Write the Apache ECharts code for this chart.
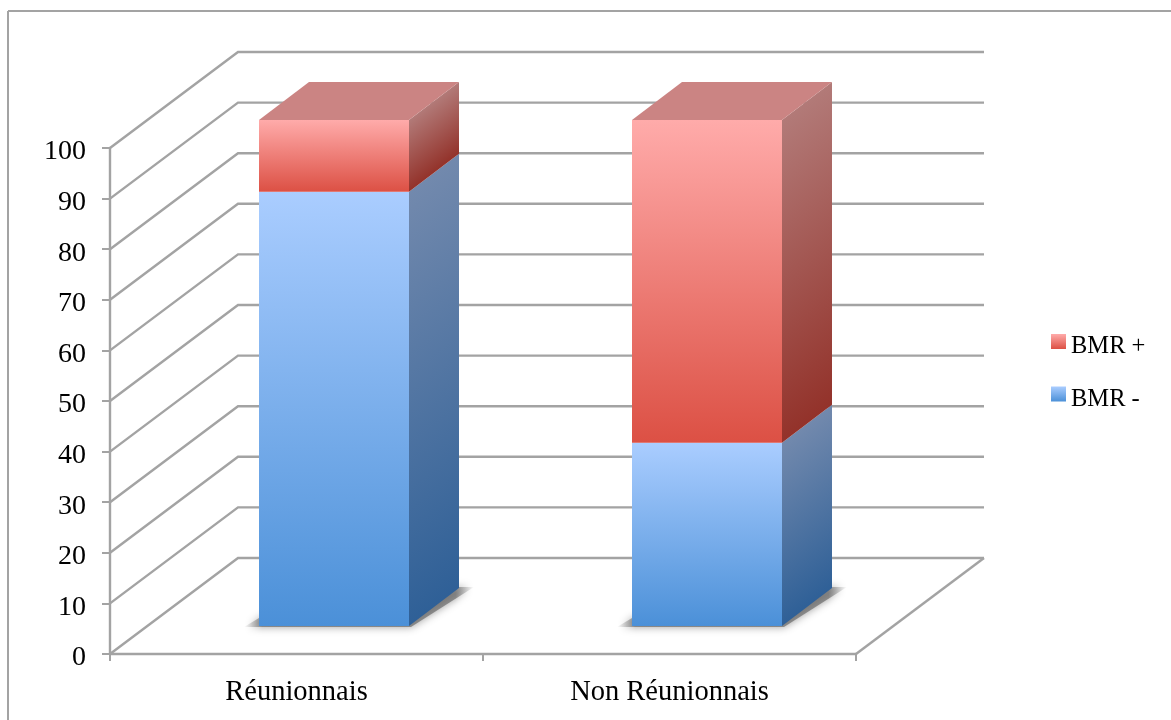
<!DOCTYPE html>
<html>
<head>
<meta charset="utf-8">
<style>html,body{margin:0;padding:0;background:#fff}#chart{width:1171px;height:720px}</style>
<script src="https://cdn.jsdelivr.net/npm/echarts@6/dist/echarts.min.js"></script>
</head>
<body>
<div id="chart"></div>
<script>
// Share of patients by group, stacked to 100
const categories = ['Réunionnais', 'Non Réunionnais'];
const bmrMinus = [85.8, 36.2];
const bmrPlus = [14.2, 63.8];
const yTicks = [0, 10, 20, 30, 40, 50, 60, 70, 80, 90, 100];

// Oblique projection used for the pseudo-3D look (screen pixels)
const WALL = [128, -96];
const BAR_FRONT = [37.5, -28];
const BAR_DEPTH = [50, -38];
const BAR_WIDTH = 150;
const LINE = '#a3a3a3';
const LINE_WIDTH = 2.4;
const TEXT_FONT = '"Liberation Serif", serif';

const grad = (x0, y0, x1, y1, from, to) =>
  new echarts.graphic.LinearGradient(x0, y0, x1, y1,
    [{ offset: 0, color: from }, { offset: 1, color: to }], true);

const BLUE = { front: ['#aacdff', '#4b90d8'], side: ['#7289ad', '#2f6097'] };
const RED = { front: ['#ffabaa', '#dc5044'], side: ['#b27a78', '#93322a'] };
const TOP_FACE = '#cb8483';

// Walls: one bent line per tick, running back along the side wall then across the rear wall
function renderWall(params, api) {
  const cs = params.coordSys;
  const p = api.coord([0, api.value(0)]);
  const x0 = cs.x;
  return {
    type: 'polyline',
    silent: true,
    shape: { points: [[x0, p[1]], [x0 + WALL[0], p[1] + WALL[1]], [x0 + cs.width + WALL[0], p[1] + WALL[1]]] },
    style: { fill: null, stroke: LINE, lineWidth: LINE_WIDTH }
  };
}

// Floor edge on the right-hand side
function renderFloorEdge(params, api) {
  const cs = params.coordSys;
  const base = api.coord([0, 0])[1];
  const x = cs.x + cs.width;
  return {
    type: 'line',
    silent: true,
    shape: { x1: x, y1: base, x2: x + WALL[0], y2: base + WALL[1] },
    style: { stroke: LINE, lineWidth: LINE_WIDTH }
  };
}

// Soft contact shadow beneath a column, fading out at both tails
function renderShadow(params, api) {
  const i = api.value(0);
  const cx = api.coord([i, 0]);
  const left = cx[0] + BAR_FRONT[0] - BAR_WIDTH / 2;
  const right = left + BAR_WIDTH;
  const base = cx[1] + BAR_FRONT[1];
  const x0 = left - 15;
  const x1 = right + BAR_DEPTH[0] + 15;
  const fill = new echarts.graphic.LinearGradient(x0, 0, x1, 0, [
    { offset: 0, color: 'rgba(100,100,100,0)' },
    { offset: 0.08, color: 'rgba(100,100,100,0.65)' },
    { offset: 0.92, color: 'rgba(100,100,100,0.65)' },
    { offset: 1, color: 'rgba(100,100,100,0)' }
  ], true);
  return {
    type: 'polygon',
    silent: true,
    shape: { points: [[x0, base + 1], [left, base - 8], [right + BAR_DEPTH[0], base + BAR_DEPTH[1] - 1],
      [x1, base + BAR_DEPTH[1] - 1], [right + 2, base + 1]] },
    style: { fill, shadowBlur: 8, shadowColor: 'rgba(90,90,90,0.9)' }
  };
}

// One stacked segment: front face, right face and, on the last segment, the cap
function segmentRenderer(palette, withCap) {
  return function (params, api) {
    const i = api.value(0);
    const low = api.coord([i, api.value(1)]);
    const high = api.coord([i, api.value(2)]);
    const left = low[0] + BAR_FRONT[0] - BAR_WIDTH / 2;
    const right = left + BAR_WIDTH;
    const yLow = low[1] + BAR_FRONT[1];
    const yHigh = high[1] + BAR_FRONT[1];
    const h = yLow - yHigh;
    const [dx, dy] = BAR_DEPTH;
    // Side shading follows the slope of the face's top edge
    const len = Math.hypot(dx, dy);
    const nx = -dy / len, ny = dx / len;
    const sideSpan = h * ny;
    const children = [
      {
        type: 'polygon',
        shape: { points: [[right, yHigh], [right + dx, yHigh + dy], [right + dx, yLow + dy], [right, yLow]] },
        style: { fill: grad(right, yHigh, right + nx * sideSpan, yHigh + ny * sideSpan, palette.side[0], palette.side[1]) }
      },
      {
        type: 'polygon',
        shape: { points: [[left, yHigh], [right, yHigh], [right, yLow], [left, yLow]] },
        style: { fill: grad(left, yHigh, left, yLow, palette.front[0], palette.front[1]) }
      }
    ];
    if (withCap) {
      children.push({
        type: 'polygon',
        shape: { points: [[left, yHigh], [right, yHigh], [right + dx, yHigh + dy], [left + dx, yHigh + dy]] },
        style: { fill: TOP_FACE }
      });
    }
    return { type: 'group', children };
  };
}

const minusRows = categories.map((_, i) => [i, 0, bmrMinus[i]]);
const plusRows = categories.map((_, i) => [i, bmrMinus[i], bmrMinus[i] + bmrPlus[i]]);
const legendSwatch = (c) => new echarts.graphic.LinearGradient(0, 0, 0, 1,
  [{ offset: 0, color: c[0] }, { offset: 1, color: c[1] }]);

const chart = echarts.init(document.getElementById('chart'), null, { renderer: 'canvas' });
chart.setOption({
  animation: false,
  backgroundColor: '#fff',
  graphic: [
    { type: 'line', silent: true, shape: { x1: 8, y1: 11, x2: 1171, y2: 11 }, style: { stroke: LINE, lineWidth: 2 } },
    { type: 'line', silent: true, shape: { x1: 8, y1: 11, x2: 8, y2: 720 }, style: { stroke: LINE, lineWidth: 2 } }
  ],
  legend: {
    orient: 'vertical',
    left: 1051,
    top: 334,
    padding: 0,
    itemWidth: 15,
    itemHeight: 15,
    itemGap: 27,
    icon: 'rect',
    formatter: (name) => '{t|' + name + '}',
    textStyle: {
      rich: { t: { fontFamily: TEXT_FONT, fontSize: 24.5, color: '#000', padding: [11, 0, 0, 0] } }
    },
    data: [
      { name: 'BMR +', itemStyle: { color: legendSwatch(RED.front) } },
      { name: 'BMR -', itemStyle: { color: legendSwatch(BLUE.front) } }
    ]
  },
  grid: { left: 110, top: 148, width: 746, height: 506 },
  xAxis: {
    type: 'category',
    data: categories,
    axisLine: { lineStyle: { color: LINE, width: LINE_WIDTH } },
    axisTick: { show: true, length: 7, alignWithLabel: false, lineStyle: { color: LINE, width: 2 } },
    axisLabel: { fontFamily: TEXT_FONT, fontSize: 28.5, color: '#000', margin: 24 },
    splitLine: { show: false }
  },
  yAxis: {
    type: 'value',
    min: 0,
    max: 100,
    interval: 10,
    axisLine: { show: true, lineStyle: { color: LINE, width: LINE_WIDTH } },
    axisTick: { show: true, length: 8, lineStyle: { color: LINE, width: 2 } },
    axisLabel: {
      margin: 24,
      formatter: '{t|{value}}',
      rich: { t: { fontFamily: TEXT_FONT, fontSize: 28, color: '#000', padding: [8, 0, 0, 0] } }
    },
    splitLine: { show: false }
  },
  series: [
    { type: 'custom', name: 'walls', z: 1, renderItem: renderWall, data: yTicks.map(v => [v]), encode: { y: 0 } },
    { type: 'custom', name: 'floor', z: 1, renderItem: renderFloorEdge, data: [[0]], encode: { y: 0 } },
    { type: 'custom', name: 'shadow', z: 2, renderItem: renderShadow, data: categories.map((_, i) => [i]), encode: { x: 0 } },
    { type: 'custom', name: 'BMR -', z: 3, renderItem: segmentRenderer(BLUE, false), data: minusRows, encode: { x: 0, y: [1, 2] } },
    { type: 'custom', name: 'BMR +', z: 4, renderItem: segmentRenderer(RED, true), data: plusRows, encode: { x: 0, y: [1, 2] } }
  ]
});
</script>
</body>
</html>
